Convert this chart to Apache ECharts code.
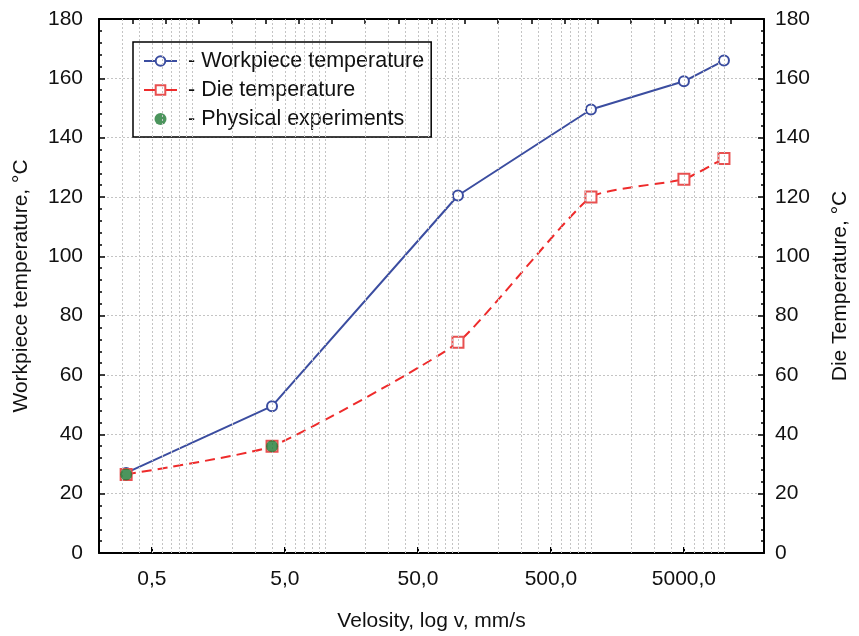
<!DOCTYPE html>
<html><head><meta charset="utf-8">
<script src="https://cdn.jsdelivr.net/npm/echarts@6/dist/echarts.min.js"></script>
<style>html,body{margin:0;padding:0;background:#fff}#c{width:859px;height:636px}</style>
</head><body><div id="c"></div>
<script>
// ---- data ----
const velocity = [0.32, 4, 100, 1000, 5000, 10000];
const workpieceTemp = [27, 49.5, 120.5, 149.5, 159, 166];
const dieTemp = [26.5, 36, 71, 120, 126, 133];
const expVelocity = [0.32, 4];
const expTemp = [26.5, 36];
const xTickValues = [0.5, 5, 50, 500, 5000];
const xTickLabels = ['0,5', '5,0', '50,0', '500,0', '5000,0'];
const gridDecades = [0.1, 1, 10, 100, 1000, 10000];
const gridMultipliers = [1, 2, 3, 4, 5, 6, 7, 8, 9];

const FONT = "'Liberation Sans', Arial, sans-serif";
const gridValues = [];
gridDecades.forEach(d => gridMultipliers.forEach(m => {
  const v = +(d * m).toPrecision(6);
  if (v > 0.2 && v < 20000) gridValues.push(v);
}));

function zip(xs, ys) { return xs.map((x, i) => [x, ys[i]]); }
function xLabel(v) {
  for (let i = 0; i < xTickValues.length; i++) {
    if (Math.abs(Math.log10(v) - Math.log10(xTickValues[i])) < 1e-6) return xTickLabels[i];
  }
  return '';
}

const chart = echarts.init(document.getElementById('c'), null, {renderer: 'canvas'});
const axisText = {fontSize: 21, fontFamily: FONT, color: '#111'};
chart.setOption({
  animation: false,
  backgroundColor: '#fff',
  textStyle: {fontFamily: FONT},
  grid: {left: 99, right: 95, top: 19, bottom: 83, containLabel: false, outerBoundsMode: 'none'},
  legend: {
    orient: 'vertical', left: 133, top: 42,
    padding: [8, 7, 7, 10], itemGap: 7, itemWidth: 33, itemHeight: 12,
    borderColor: '#000', borderWidth: 1.5, backgroundColor: '#fff',
    textStyle: {fontSize: 21.5, fontFamily: FONT, color: '#111', padding: [0, 0, 0, 6]},
    formatter: n => '- ' + n,
    data: [
      {name: 'Workpiece temperature'},
      {name: 'Die temperature', lineStyle: {type: 'solid'}},
      {name: 'Physical experiments'}
    ]
  },
  xAxis: [{
    type: 'log', logBase: 10, min: 0.2, max: 20000, position: 'bottom',
    name: 'Velosity, log v, mm/s', nameLocation: 'middle', nameGap: 58,
    nameTextStyle: axisText,
    axisLine: {show: true, onZero: false, lineStyle: {color: '#000', width: 2}},
    axisTick: {show: true, inside: true, length: 6, customValues: xTickValues, lineStyle: {color: '#000', width: 2}},
    axisLabel: {show: true, customValues: xTickValues, formatter: xLabel, margin: 16, ...axisText},
    splitLine: {show: false}, minorTick: {show: false}, minorSplitLine: {show: false}
  }, {
    type: 'value', min: 0, max: 20, interval: 1, position: 'top',
    axisLine: {show: true, onZero: false, lineStyle: {color: '#000', width: 2}},
    axisTick: {show: true, inside: true, length: 5, lineStyle: {color: '#000', width: 1.5}},
    axisLabel: {show: false}, splitLine: {show: false}
  }],
  yAxis: [{
    type: 'value', min: 0, max: 180, interval: 20, position: 'left',
    name: 'Workpiece temperature, °C', nameLocation: 'middle', nameGap: 67,
    nameTextStyle: axisText,
    axisLine: {show: true, onZero: false, lineStyle: {color: '#000', width: 2}},
    axisTick: {show: true, inside: true, length: 6, lineStyle: {color: '#000', width: 1.5}},
    minorTick: {show: true, splitNumber: 5, length: 3, lineStyle: {color: '#000', width: 1.5}},
    axisLabel: {margin: 16, ...axisText},
    splitLine: {show: true, lineStyle: {color: '#c4c4c4', type: [2, 2], width: 1}}
  }, {
    type: 'value', min: 0, max: 180, interval: 20, position: 'right',
    name: 'Die Temperature, °C', nameLocation: 'middle', nameGap: 66,
    nameTextStyle: axisText,
    axisLine: {show: true, onZero: false, lineStyle: {color: '#000', width: 2}},
    axisTick: {show: true, inside: true, length: 6, lineStyle: {color: '#000', width: 1.5}},
    minorTick: {show: true, splitNumber: 5, length: 3, lineStyle: {color: '#000', width: 1.5}},
    axisLabel: {margin: 11, ...axisText},
    splitLine: {show: false}
  }],
  series: [{
    name: 'grid', type: 'line', data: [], xAxisIndex: 0, yAxisIndex: 0, z: 1,
    markLine: {
      silent: true, symbol: ['none', 'none'], label: {show: false}, animation: false,
      lineStyle: {color: '#c4c4c4', type: [2, 2], width: 1},
      emphasis: {disabled: true},
      data: gridValues.map(v => ({xAxis: v}))
    }
  }, {
    name: 'Workpiece temperature', type: 'line', xAxisIndex: 0, yAxisIndex: 0, z: 3,
    data: zip(velocity, workpieceTemp),
    symbol: 'emptyCircle', symbolSize: 10,
    lineStyle: {color: '#3b4da0', width: 2},
    itemStyle: {color: '#3b4da0', borderColor: '#3b4da0', borderWidth: 1.2}
  }, {
    name: 'Die temperature', type: 'line', xAxisIndex: 0, yAxisIndex: 0, z: 4,
    data: zip(velocity, dieTemp), smooth: 0.15,
    symbol: 'emptyRect', symbolSize: 11,
    lineStyle: {color: '#ee2b2b', width: 2, type: [10, 6]},
    itemStyle: {color: '#e85050', borderColor: '#e85050', borderWidth: 1.2}
  }, {
    name: 'Physical experiments', type: 'scatter', xAxisIndex: 0, yAxisIndex: 0, z: 5,
    data: zip(expVelocity, expTemp),
    symbol: 'circle', symbolSize: 12,
    itemStyle: {color: '#1f7a35'}
  }]
});
</script></body></html>
